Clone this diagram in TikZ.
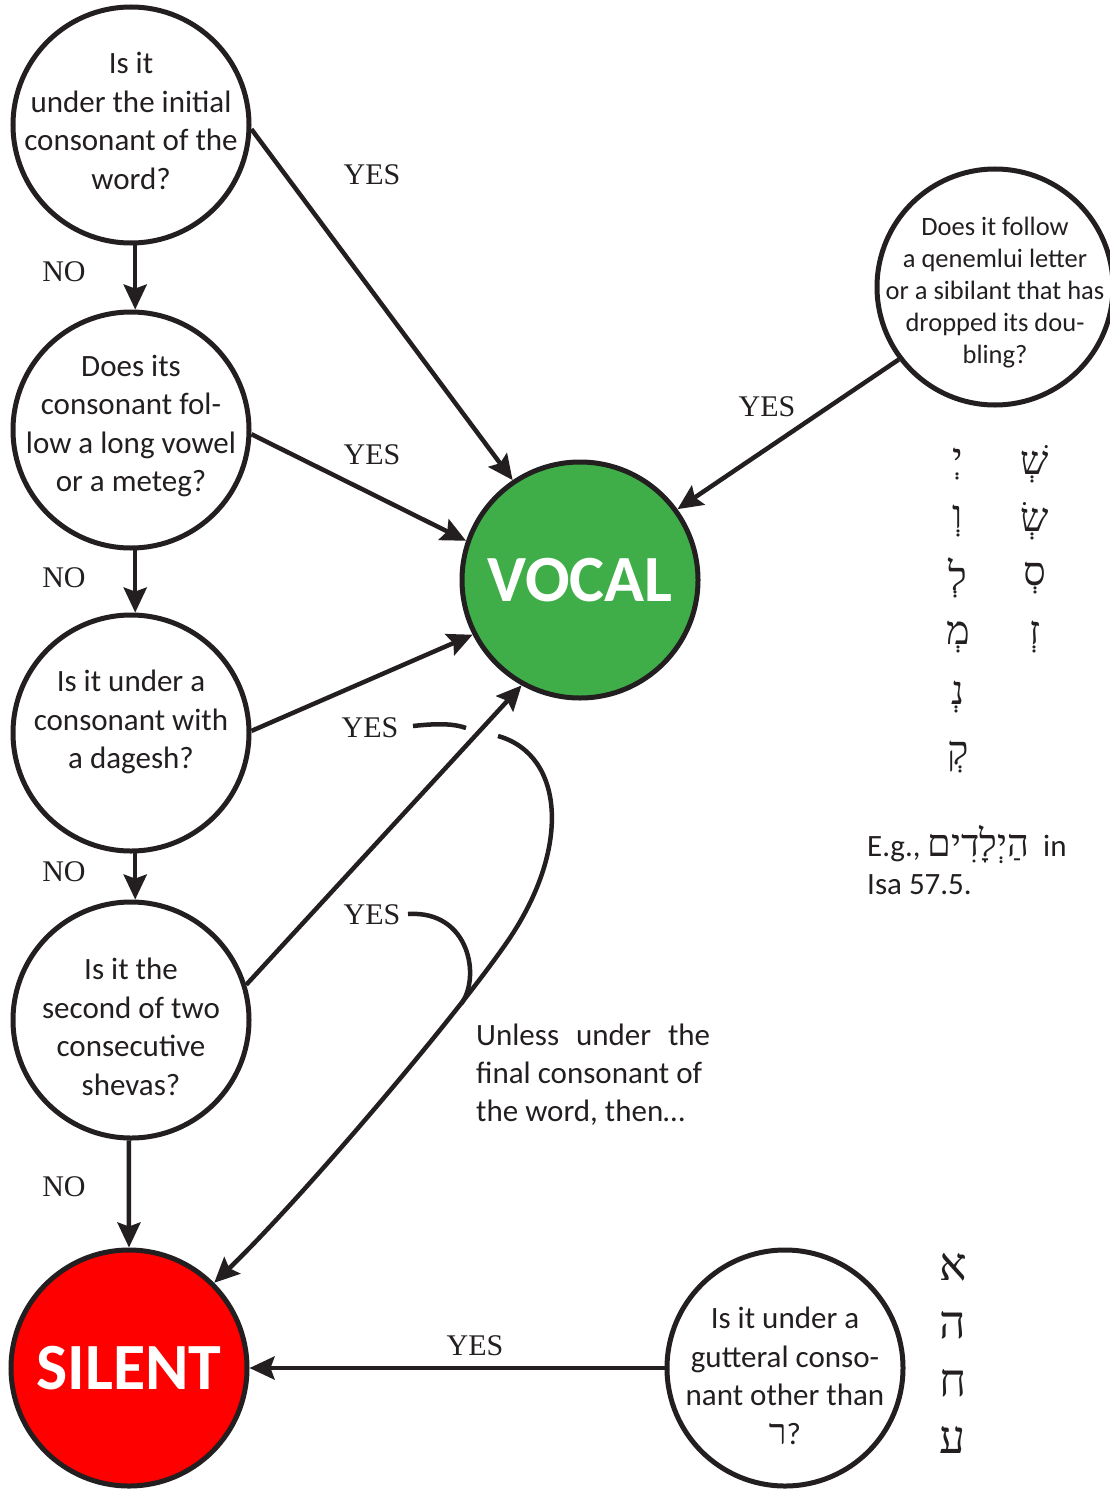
\documentclass[tikz,border=0pt]{standalone}
\usepackage{fontspec}
\setmainfont{Carlito}
\newfontfamily\timesf{Liberation Serif}
\newfontfamily\hebf[Script=Hebrew]{Liberation Serif}
\TeXXeTstate=1
\usetikzlibrary{arrows.meta}
\definecolor{ink}{HTML}{231F20}
\definecolor{vgreen}{HTML}{3FAE49}
\definecolor{sred}{HTML}{FF0000}
\begin{document}
\begin{tikzpicture}[x=1pt,y=-1pt,
  circ/.style={circle, draw=ink, line width=5pt, minimum size=236pt, inner sep=0pt},
  qtext/.style={align=center, text=ink, inner sep=0pt, font=\fontsize{31}{38.5}\selectfont},
  ptext/.style={text=ink, inner sep=0pt, anchor=base west, font=\fontsize{31}{38.5}\selectfont},
  yn/.style={text=ink, inner sep=0pt, font=\timesf\fontsize{30}{30}\selectfont},
  arr/.style={draw=ink, line width=4.5pt, -{Stealth[length=25pt,width=23pt,inset=4pt]}},
  ln/.style={draw=ink, line width=4.5pt},
  big/.style={text=white, font=\bfseries\fontsize{66}{66}\selectfont},
  heb/.style={text=ink, inner sep=0pt, font=\hebf\fontsize{40}{40}\selectfont},
  hebbig/.style={text=ink, inner sep=0pt, font=\hebf\fontsize{46}{46}\selectfont}]
\useasboundingbox (0,0) rectangle (1110,1490);
\clip (0,0) rectangle (1110,1490);
\fill[white] (0,0) rectangle (1110,1490);

% question circles
\node[circ] (C1) at (131,125) {};
\node[circ] (C2) at (131,430) {};
\node[circ] (C3) at (131,733) {};
\node[circ] (C4) at (131,1020) {};
\node[circ] (R1) at (995,287) {};
\node[circ] (R2) at (785,1368) {};
\node[circ, fill=vgreen, big] (VOCAL) at (580,580) {VOCAL};
\node[circ, fill=sred, big] (SILENT) at (129,1368) {SILENT};

\node[qtext] (t1) at (131,121) {Is it\\under the initial\\consonant of the\\word?};
\node[qtext] (t2) at (131,426) {Does its\\consonant fol-\\low a long vowel\\or a meteg?};
\node[qtext] (t3) at (131,722) {Is it under a\\consonant with\\a dagesh?};
\node[qtext] (t4) at (131,1027) {Is it the\\second of two\\consecutive\\shevas?};
\node[qtext, font=\fontsize{26.5}{32}\selectfont] (t7) at (995,293) {Does it follow\\a qenemlui letter\\or a sibilant that has\\dropped its dou-\\bling?};
\node[qtext] (t8) at (785,1376) {Is it under a\\gutteral conso-\\nant other than\\{\hebf\fontsize{36}{36}\selectfont\beginR ר\endR}?};

% labels
\node[yn] (y1) at (372,175) {YES};
\node[yn] (y2) at (372,455) {YES};
\node[yn] (y3) at (370,728) {YES};
\node[yn] (y4) at (372,915) {YES};
\node[yn] (y5) at (767,407) {YES};
\node[yn] (y6) at (475,1346) {YES};
\node[yn] (n1) at (64,272) {NO};
\node[yn] (n2) at (64,578) {NO};
\node[yn] (n3) at (64,872) {NO};
\node[yn] (n4) at (64,1187) {NO};

% straight connectors
\draw[arr] (C1.-2) -- (VOCAL.124);
\draw[arr] (C1.-88) -- (C2.88);
\draw[arr] (C2.-2) -- (VOCAL.161);
\draw[arr] (C2.-88) -- (C3.88);
\draw[arr] (C3.1) -- (VOCAL.207);
\draw[arr] (C3.-88) -- (C4.88);
\draw[arr] (C4.17) -- (VOCAL.241);
\draw[arr] (C4.-91) -- (SILENT.north);
\draw[arr] (R1.217) -- (VOCAL.36);
\draw[arr] (R2.west) -- (SILENT.east);

% curved connectors
\coordinate (g1) at (413,726);
\coordinate (g2) at (466,728);
\coordinate (g3) at (498,736);
\coordinate (m) at (505,945);
\coordinate (g4) at (408,914);
\coordinate (j) at (461,1004);
\draw[ln] (g1) .. controls (440,723) and (455,724) .. (g2);
\draw[arr] (g3) .. controls (565,755) and (572,850) .. (m) .. controls (449,1025) and (300,1200) .. (SILENT.north east);
\draw[ln] (g4) .. controls (470,910) and (481,978) .. (j);

% side notes
\node[ptext] (u1) at (476,1045) {\makebox[234pt][s]{Unless under the}};
\node[ptext] (u2) at (476,1083) {final consonant of};
\node[ptext] (u3) at (476,1121) {the word, then\ldots};
\node[ptext] (e1) at (867,856) {E.g., {\hebf\fontsize{38}{38}\selectfont\beginR הַיְלָדִים\endR}\ \ in};
\node[ptext] (e2) at (867,894) {Isa 57.5.};

% Hebrew letter columns
\node[heb] (a1) at (958,464) {\beginR יְ\endR};
\node[heb] (a2) at (958,521) {\beginR וְ\endR};
\node[heb] (a3) at (958,578) {\beginR לְ\endR};
\node[heb] (a4) at (958,637) {\beginR מְ\endR};
\node[heb] (a5) at (958,697) {\beginR נְ\endR};
\node[heb] (a6) at (958,757) {\beginR קְ\endR};
\node[heb] (b1) at (1035,464) {\beginR שְׁ\endR};
\node[heb] (b2) at (1035,521) {\beginR שְׂ\endR};
\node[heb] (b3) at (1035,578) {\beginR סְ\endR};
\node[heb] (b4) at (1035,637) {\beginR זְ\endR};

\node[hebbig] (g1l) at (953,1267) {\beginR א\endR};
\node[hebbig] (g2l) at (953,1325) {\beginR ה\endR};
\node[hebbig] (g3l) at (953,1383) {\beginR ח\endR};
\node[hebbig] (g4l) at (953,1440) {\beginR ע\endR};
\end{tikzpicture}
\end{document}
